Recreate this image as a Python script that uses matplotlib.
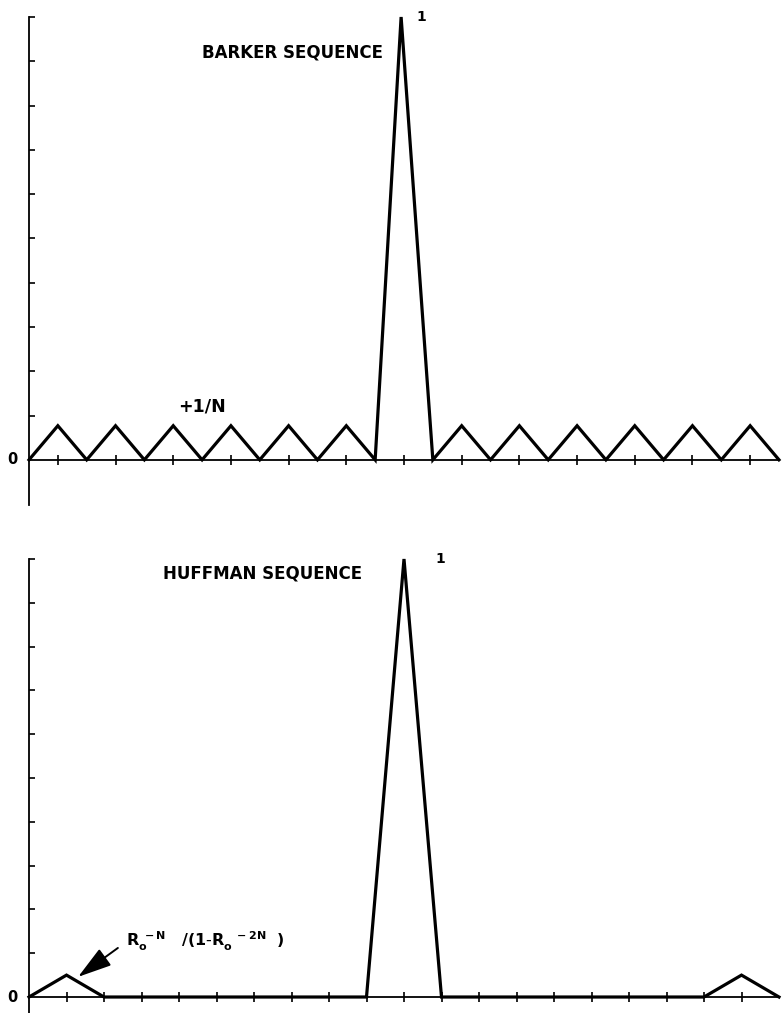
import matplotlib
matplotlib.use("Agg")
import matplotlib.pyplot as plt

# Barker (13) autocorrelation: lag in chips, normalised amplitude
barker_lag = [-6.5, -6, -5.5, -5, -4.5, -4, -3.5, -3, -2.5, -2, -1.5, -1, -0.5,
              -0.05, 0.5, 1, 1.5, 2, 2.5, 3, 3.5, 4, 4.5, 5, 5.5, 6, 6.5]
barker_amp = [0, 0.077, 0, 0.077, 0, 0.077, 0, 0.077, 0, 0.077, 0, 0.077, 0,
              1.0, 0, 0.077, 0, 0.077, 0, 0.077, 0, 0.077, 0, 0.077, 0, 0.077, 0]
barker_ticks = [-6, -5, -4, -3, -2, -1, 0, 1, 2, 3, 4, 5, 6]

# Huffman sequence autocorrelation
huffman_lag = [-10, -9, -8, -1, 0, 1, 8, 9, 10]
huffman_amp = [0, 0.05, 0, 0, 1.0, 0, 0, 0.05, 0]
huffman_ticks = [-9, -8, -7, -6, -5, -4, -3, -2, -1, 0, 1, 2, 3, 4, 5, 6, 7, 8, 9]

amp_ticks = [0.1, 0.2, 0.3, 0.4, 0.5, 0.6, 0.7, 0.8, 0.9, 1.0]

plt.rcParams['font.family'] = ['DejaVu Sans']
plt.rcParams['mathtext.fontset'] = 'dejavusans'

W, H = 782, 1013
fig = plt.figure(figsize=(W / 100, H / 100), dpi=100)


def style_axis(ax, xlim, ylim, xticks):
    ax.set_xlim(*xlim)
    ax.set_ylim(*ylim)
    for side in ("top", "right"):
        ax.spines[side].set_visible(False)
    ax.spines["bottom"].set_position(("data", 0))
    ax.spines["left"].set_bounds(ylim[0], 1.0)
    for sp in ("left", "bottom"):
        ax.spines[sp].set_linewidth(1.3)
    ax.set_xticks(xticks)
    ax.set_yticks(amp_ticks)
    ax.tick_params(axis="x", direction="inout", length=7, width=1.2,
                   labelbottom=False)
    ax.tick_params(axis="y", direction="in", length=4.5, width=1.2,
                   labelleft=False)
    ax.annotate("0", xy=(xlim[0], 0), xytext=(-8, 0), textcoords="offset points",
                ha="right", va="center", fontsize=10.5, fontweight="bold")


# top panel: Barker
ax1 = fig.add_axes([29 / W, (H - 505) / H, 750 / W, 488 / H])
style_axis(ax1, (-6.5, 6.5), (-0.102, 1.0), barker_ticks)
ax1.plot(barker_lag, barker_amp, color="black", lw=2.3,
         solid_joinstyle="miter", clip_on=False)
ax1.text(-0.36, 0.92, "BARKER SEQUENCE", ha="right", va="center",
         fontsize=12, fontweight="bold")
ax1.text(0.22, 0.999, "1", ha="left", va="center", fontsize=10, fontweight="bold")
ax1.text(-3.5, 0.12, "+1/N", ha="center", va="center", fontsize=12.5,
         fontweight="bold")

# bottom panel: Huffman
ax2 = fig.add_axes([29 / W, 0, 750 / W, (H - 559) / H])
style_axis(ax2, (-10, 10), (-0.0365, 1.0), huffman_ticks)
ax2.plot(huffman_lag, huffman_amp, color="black", lw=2.3,
         solid_joinstyle="miter", clip_on=False)
ax2.text(-1.12, 0.968, "HUFFMAN SEQUENCE", ha="right", va="center",
         fontsize=12, fontweight="bold")
ax2.text(0.85, 0.999, "1", ha="left", va="center", fontsize=10, fontweight="bold")
ax2.text(-7.4, 0.128, r"$\mathbf{R_o^{\ -N}\ \ \ /(1\text{-}R_o^{\ \ \ -2N}\ \ )}$",
         ha="left", va="center", fontsize=11.5)
# arrow pointing at the first sidelobe
ax2.annotate("", xy=(-8.69, 0.046), xytext=(-7.63, 0.112),
             arrowprops=dict(arrowstyle="-|>,head_length=1.5,head_width=0.45",
                             color="black", lw=1.4, mutation_scale=14,
                             shrinkA=0, shrinkB=0))

fig.savefig("out.png", dpi=100)
